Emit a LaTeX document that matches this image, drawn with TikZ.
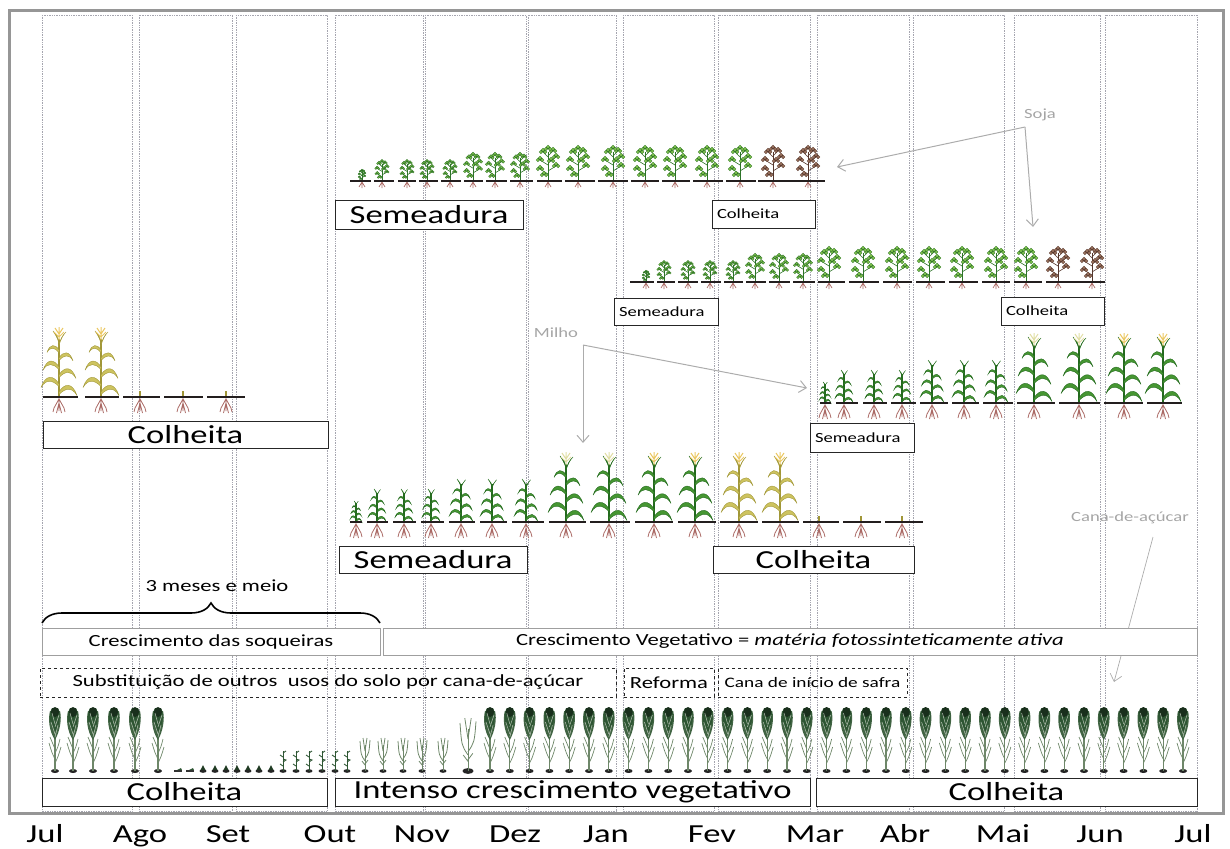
\documentclass[tikz,border=0pt]{standalone}
\usepackage{fontspec}
\setmainfont{Carlito}[FakeStretch=1.33]
\usetikzlibrary{arrows.meta,decorations.pathreplacing}
\definecolor{frameC}{RGB}{150,150,150}
\definecolor{colC}{RGB}{165,165,175}
\definecolor{cornG}{RGB}{70,150,50}
\definecolor{cornD}{RGB}{35,105,30}
\definecolor{cornY}{RGB}{205,195,95}
\definecolor{cornYD}{RGB}{160,150,55}
\definecolor{tassC}{RGB}{235,200,100}
\definecolor{tassP}{RGB}{225,222,165}
\definecolor{rootC}{RGB}{170,105,100}
\definecolor{soyG}{RGB}{125,190,75}
\definecolor{soyD}{RGB}{45,115,40}
\definecolor{soyB}{RGB}{150,110,90}
\definecolor{soyBD}{RGB}{85,55,45}
\definecolor{caneL}{RGB}{110,135,105}
\definecolor{caneD}{RGB}{45,85,50}
\definecolor{labC}{RGB}{165,165,165}
\definecolor{groundC}{RGB}{35,30,30}
\newcommand\fBig{\fontsize{26}{30}\selectfont}
\newcommand\fMid{\fontsize{17}{20}\selectfont}
\newcommand\fSm{\fontsize{14}{17}\selectfont}
\newcommand\fTiny{\fontsize{14.5}{17}\selectfont}
\newcommand\cleaf[3]{\filldraw[fill=lf,draw=ld,xscale=#2] (0,#1) .. controls (0.3*#3,#1+0.5*#3) and (0.75*#3,#1+0.55*#3) .. (#3,#1-0.2*#3) .. controls (0.72*#3,#1+0.3*#3) and (0.35*#3,#1+0.22*#3) .. (0,#1-2.5) -- cycle;}
\newcommand\tri[2]{\filldraw[fill=lf,draw=ld] (#1,#2+2.1) circle[radius=1.9] (#1-2.2,#2) circle[radius=1.8] (#1+2.2,#2) circle[radius=1.8];}
\tikzset{
 pics/corn/.style n args={2}{code={
  \colorlet{lf}{#1}\colorlet{ld}{#2}
  \begin{scope}[yscale=-1, line width=0.4pt]
   \draw[ld, line width=1.3pt] (0,0) -- (0,58);
   \cleaf{5}{1}{18}
   \cleaf{13}{-1}{18}
   \cleaf{22}{1}{17}
   \cleaf{30}{-1}{16}
   \cleaf{39}{1}{14}
   \cleaf{47}{-1}{12}
   \filldraw[fill=lf,draw=ld] (0,52) .. controls (2,58) and (4,62) .. (7,65) .. controls (3,61) and (1,58) .. (-0.5,49) -- cycle;
   \filldraw[fill=lf,draw=ld] (0,54) .. controls (-2,60) and (-4,63) .. (-6,66) .. controls (-2,62) and (0,59) .. (0.5,51) -- cycle;
  \end{scope}}},
 pics/tassel/.style={code={
  \draw[#1, line width=1pt] (0,-57) -- (0,-70) (0,-63) -- (-4,-69) (0,-63) -- (4,-69) (0,-60) -- (-5,-65) (0,-60) -- (5,-65);}},
 pics/croots/.style={code={
  \draw[rootC, line width=0.8pt] (0,0) -- (0,14) (0,2) -- (-5,11) -- (-6,15) (0,2) -- (5,11) -- (6,15) (0,6) -- (-2.5,16) (0,6) -- (2.5,16);}},
 pics/stub/.style={code={\draw[cornYD, line width=1.2pt] (0,0) -- (0,-6);}},
 pics/soy/.style n args={2}{code={
  \colorlet{lf}{#1}\colorlet{ld}{#2}
  \begin{scope}[yscale=-1, line width=0.3pt]
   \draw[ld, line width=0.9pt] (0,0) -- (0,29);
   \draw[ld, line width=0.6pt] (0,7) -- (-8,12) (0,10) -- (8,15) (0,16) -- (-8,21) (0,18) -- (8,24) (0,24) -- (-5,29) (0,25) -- (5,30);
   \tri{-8}{12}\tri{8}{15}\tri{-8}{21}\tri{8}{24}\tri{-5}{29}\tri{5}{30}\tri{0}{32}\tri{-4}{6}\tri{3}{20}
  \end{scope}}},
 pics/sroots/.style={code={\draw[rootC, line width=0.7pt] (0,0) -- (0,7) (0,1) -- (-3,6) (0,1) -- (3,6);}},
 pics/canetall/.style={code={
  \begin{scope}[yscale=-1]
   \fill[black!85] (0,0) ellipse[x radius=4, y radius=2];
   \draw[caneL, line width=1.3pt] (0,0) -- (0,42);
   \draw[caneL, line width=0.7pt] (0,8) .. controls (3,14) .. (6,24) (0,12) .. controls (-3,18) .. (-6,28) (0,18) .. controls (3,24) .. (5,32) (0,22) .. controls (-3,28) .. (-5,34);
   \fill[caneD!70!caneL] (0,31) .. controls (-6,40) and (-7,52) .. (-5,60) -- (5,60) .. controls (7,52) and (5,40) .. (0,31) -- cycle;
   \fill[caneD] (-1,40) .. controls (-6,48) and (-6,58) .. (-3,63) -- (3,63) .. controls (6,58) and (5,48) .. (1,40) -- cycle;
   \fill[caneD!55!black] (0,59) ellipse[x radius=4, y radius=5];
   \draw[caneL!50!white, line width=0.5pt] (0,34) -- (3,46) (0,37) -- (-4,49) (0,44) -- (4,56) (0,47) -- (-3,58);
  \end{scope}}},
 pics/canestump/.style={code={
  \fill[black!85] (0,0) ellipse[x radius=3.5, y radius=1.8];
  \fill[caneD!70!black] (-2.5,-1) -- (0,-6) -- (2.5,-1) -- cycle;}},
 pics/caneflat/.style={code={
  \fill[black!80] (-4,-1) rectangle (4,1);
  \fill[caneD] (-1,-1) -- (3,-3) -- (4,-1) -- cycle;}},
 pics/canesprout/.style={code={
  \fill[black!85] (0,0) ellipse[x radius=3.5, y radius=1.8];
  \draw[caneD, line width=0.9pt] (0,0) -- (0,-20);
  \draw[caneD, line width=0.9pt] (0,-5) -- (-3,-7) (0,-9) -- (3,-11) -- (0,-12) (0,-14) -- (-3,-16) (0,-18) -- (3,-20);}},
 pics/caneyoung/.style={code={
  \fill[black!85] (0,0) ellipse[x radius=3.5, y radius=1.8];
  \draw[caneL, line width=1pt] (0,0) -- (0,-26);
  \draw[caneL, line width=0.8pt] (0,-10) .. controls (-4,-16) .. (-5,-30) (0,-12) .. controls (4,-18) .. (5,-31) (0,-20) -- (-2,-33) (0,-20) -- (2,-33) (0,-6) -- (-3,-10) (0,-7) -- (3,-11);}}
}
\begin{document}
\begin{tikzpicture}[x=1pt,y=-1pt,
  col/.style={draw=colC, densely dotted, line width=0.7pt},
  bigbox/.style={draw=black!85, fill=white, line width=1pt, inner sep=0pt, font=\fBig},
  smallbox/.style={draw=black!85, fill=white, line width=1pt, inner xsep=5pt, inner ysep=0pt, align=left, font=\fSm},
  graybox/.style={draw=gray!75, fill=white, line width=1pt, inner sep=0pt, font=\fMid},
  dashbox/.style={draw=black!85, dashed, line width=0.9pt, inner sep=0pt, font=\fMid},
  ground/.style={draw=groundC, line width=2.8pt},
  lab/.style={text=labC, inner sep=1pt, font=\fSm},
  larrow/.style={draw=gray!65, line width=1pt, -{Straight Barb[length=7pt,width=12pt]}},
  mon/.style={anchor=base, inner sep=0pt, font=\fBig}]
\useasboundingbox (0,0) rectangle (1230,848);
% frame and month columns
\draw[frameC, line width=3pt] (9,11) rectangle (1223,813);
\foreach \a/\b in {42/132,139/232,236/327,335/423,425/526,528/616,623/714,718/810,817/909,913/1004,1014/1100,1105/1197}
  \draw[col] (\a,15) rectangle (\b,811);

% ---------- Soja row 1 ----------
\foreach \x/\s in {362/0.33,382/0.6,407/0.6,427/0.6,450/0.6,473/0.8,495/0.8,520/0.8,548/1,578/1,613/1,645/1,675/1,707/1,740/1}
  {\pic at (\x,181) {sroots}; \pic[scale=\s] at (\x,181) {soy={soyG}{soyD}};}
\foreach \x in {773,808}
  {\pic at (\x,181) {sroots}; \pic at (\x,181) {soy={soyB}{soyBD}};}
\foreach \a/\b in {350/371,374/394,398/416,419/438,441/461,464/483,486/507,510/533,537/562,565/595,598/628,631/659,662/690,693/723,726/756,758/825}
  \draw[ground] (\a,181) -- (\b,181);
\node[bigbox, minimum width=188pt, minimum height=29pt] (soySemA) at (429,214.5) {Semeadura};
\node[smallbox, minimum height=28pt, text width=93pt] (soyColA) at (763.5,214) {Colheita};

% ---------- Soja row 2 ----------
\foreach \x/\s in {646/0.33,664/0.6,688/0.6,710/0.6,733/0.6,755/0.8,779/0.8,803/0.8,829/1,863/1,897/1,929/1,962/1,996/1,1026/1}
  {\pic at (\x,282) {sroots}; \pic[scale=\s] at (\x,282) {soy={soyG}{soyD}};}
\foreach \x in {1058,1092}
  {\pic at (\x,282) {sroots}; \pic at (\x,282) {soy={soyB}{soyBD}};}
\foreach \a/\b in {630/654,657/675,678/698,701/721,724/743,746/766,769/790,793/815,818/845,849/879,883/912,916/945,949/978,982/1010,1014/1042,1046/1105}
  \draw[ground] (\a,282) -- (\b,282);
\node[smallbox, minimum height=27pt, text width=94pt] (soySemB) at (666,311.5) {Semeadura};
\node[smallbox, minimum height=28pt, text width=93pt] (soyColB) at (1052.5,311) {Colheita};

% ---------- Milho left ----------
\foreach \x in {59,101}
  {\pic at (\x,397) {croots}; \pic at (\x,397) {corn={cornY}{cornYD}}; \pic at (\x,397) {tassel=tassC};}
\foreach \x in {140,183,226}
  {\pic at (\x,397) {croots}; \pic at (\x,397) {stub};}
\foreach \a/\b in {43/78,85/119,123/160,164/203,207/245}
  \draw[ground] (\a,397) -- (\b,397);
\node[bigbox, minimum width=285pt, minimum height=27pt] (milColL) at (185.5,434.5) {Colheita};

% ---------- Milho middle ----------
\foreach \x/\s in {356/0.32,377/0.5,404/0.5,431/0.5,461/0.65,492/0.65,526/0.65}
  {\pic at (\x,522) {croots}; \pic[scale=\s] at (\x,522) {corn={cornG}{cornD}};}
\foreach \x/\t in {566/tassP,609/tassP,654/tassC,695/tassC}
  {\pic at (\x,522) {croots}; \pic at (\x,522) {corn={cornG}{cornD}}; \pic at (\x,522) {tassel=\t};}
\foreach \x in {739,780}
  {\pic at (\x,522) {croots}; \pic at (\x,522) {corn={cornY}{cornYD}}; \pic at (\x,522) {tassel=tassC};}
\foreach \x in {819,861,902}
  {\pic at (\x,522) {croots}; \pic at (\x,522) {stub};}
\foreach \a/\b in {350/362,367/388,393/416,421/444,449/475,480/507,512/544,549/586,590/630,635/673,678/716,720/758,762/799,803/839,843/881,885/923}
  \draw[ground] (\a,522) -- (\b,522);
\node[bigbox, minimum width=188pt, minimum height=27pt] (milSemM) at (433,559.5) {Semeadura};
\node[bigbox, minimum width=201pt, minimum height=27pt] (milColM) at (813.5,559.5) {Colheita};

% ---------- Milho right ----------
\foreach \x/\s in {825/0.32,844/0.5,874/0.5,902/0.5,932/0.65,964/0.65,996/0.65}
  {\pic at (\x,403) {croots}; \pic[scale=\s] at (\x,403) {corn={cornG}{cornD}};}
\foreach \x/\t in {1034/tassP,1079/tassP,1124/tassC,1163/tassC}
  {\pic at (\x,403) {croots}; \pic at (\x,403) {corn={cornG}{cornD}}; \pic at (\x,403) {tassel=\t};}
\foreach \a/\b in {820/831,836/858,863/887,891/916,920/948,952/979,983/1013,1017/1055,1059/1100,1104/1143,1147/1182}
  \draw[ground] (\a,403) -- (\b,403);
\node[smallbox, minimum height=29pt, text width=94pt] (milSemR) at (862,437.5) {Semeadura};

% ---------- labels with arrows ----------
\node[lab] (soja) at (1040,115) {Soja};
\coordinate (sojaJ) at (1025,127);
\coordinate (sojaA) at (837,167);
\coordinate (sojaB) at (1033,227);
\draw[larrow] (sojaJ) -- (sojaA);
\draw[larrow] (sojaJ) -- (sojaB);
\node[lab] (milho) at (556,333) {Milho};
\coordinate (milJ) at (583,345);
\coordinate (milA) at (583,443);
\coordinate (milB) at (807,388);
\draw[larrow] (milJ) -- (milA);
\draw[larrow] (milJ) -- (milB);
\node[lab] (cana) at (1130,518) {Cana-de-açúcar};
\coordinate (canaS) at (1153,537);
\coordinate (canaE) at (1114,682);
\draw[larrow, line width=0.7pt] (canaS) -- (canaE);

% ---------- Cana section ----------
\node[font=\fMid, inner sep=0pt] (tres) at (217,586) {3 meses e meio};
\coordinate (brL) at (42,623);
\coordinate (brR) at (380,623);
\draw[decorate, decoration={brace, amplitude=20pt}, line width=1.6pt] (brL) -- (brR);
\node[graybox, minimum width=338pt, minimum height=27pt] (soq) at (211,641.5) {Crescimento das soqueiras};
\node[graybox, minimum width=814pt, minimum height=27pt] (veg) at (790,641.5) {Crescimento Vegetativo = \textit{matéria fotossinteticamente ativa}};
\node[dashbox, minimum width=576pt, minimum height=29pt] (subs) at (328,682.5) {Substituição de outros \ usos do solo por cana-de-açúcar};
\node[dashbox, minimum width=90pt, minimum height=29pt] (ref) at (669,682.5) {Reforma};
\node[dashbox, minimum width=189pt, minimum height=29pt, font=\fTiny] (cini) at (812.5,682.5) {Cana de início de safra};

\foreach \x in {55,73,93,114,135,158} \pic at (\x,771) {canetall};
\foreach \x in {178,190} \pic at (\x,771) {caneflat};
\foreach \x in {203,215,226,237,248,259,271} \pic at (\x,771) {canestump};
\foreach \x in {283,296,309,322,335,347} \pic at (\x,771) {canesprout};
\foreach \x in {365,383,403,422,443} \pic at (\x,771) {caneyoung};
\pic[scale=1.6] at (468,771) {caneyoung};
\foreach \i in {0,...,35} \pic at (490+19.8*\i,771) {canetall};

\node[bigbox, minimum width=285pt, minimum height=28pt] (colB1) at (184.5,792) {Colheita};
\node[bigbox, minimum width=475pt, minimum height=28pt] (intenso) at (572.5,792) {Intenso crescimento vegetativo};
\node[bigbox, minimum width=381pt, minimum height=28pt] (colB2) at (1006.5,792) {Colheita};

% ---------- months ----------
\foreach \x/\m [count=\i] in {45/Jul,140/Ago,228/Set,330/Out,422/Nov,515/Dez,606/Jan,712/Fev,815/Mar,905/Abr,1003/Mai,1100/Jun,1193/Jul}
  \node[mon] (m\i) at (\x,842) {\m};
\end{tikzpicture}
\end{document}
